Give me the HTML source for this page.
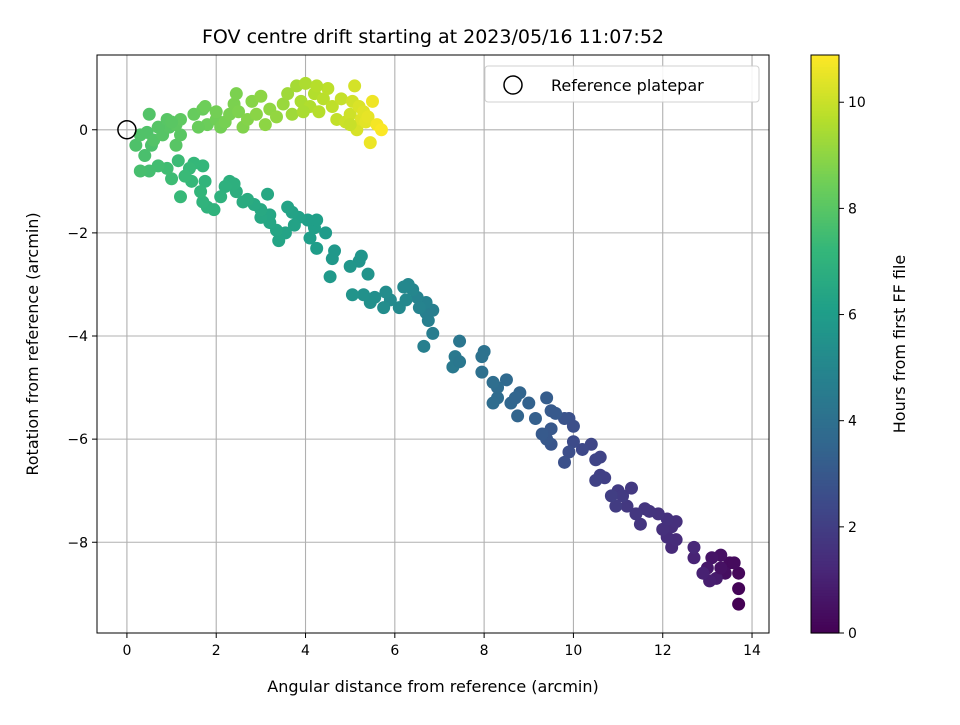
<!DOCTYPE html>
<html><head><meta charset="utf-8"><style>
body{margin:0;background:#fff;font-family:"Liberation Sans","DejaVu Sans",sans-serif}
svg text{font-family:"DejaVu Sans","Liberation Sans",sans-serif}
</style></head><body>
<svg id="chart" width="960" height="720" xmlns="http://www.w3.org/2000/svg">
<rect width="960" height="720" fill="#fff"/>
<g id="grid"></g>
<g id="points"></g>
<g id="axes"></g>
<text x="433" y="43" text-anchor="middle" font-size="19">FOV centre drift starting at 2023/05/16 11:07:52</text>
<text x="433" y="692" text-anchor="middle" font-size="16">Angular distance from reference (arcmin)</text>
<text transform="translate(38,344) rotate(-90)" text-anchor="middle" font-size="16">Rotation from reference (arcmin)</text>
<g>
<rect x="485" y="66" width="274" height="36" rx="3" fill="#fff" stroke="#ccc" opacity="0.9"/>
<circle cx="513" cy="85" r="9" fill="none" stroke="#000" stroke-width="1.5"/>
<text x="551" y="91" font-size="16">Reference platepar</text>
</g>
<g id="cbar"></g>
<text transform="translate(905,344) rotate(-90)" text-anchor="middle" font-size="16">Hours from first FF file</text>
</svg>
<script>
const xTicks=[0,2,4,6,8,10,12,14];
const yTicks=[0,-2,-4,-6,-8];
const cTicks=[0,2,4,6,8,10];
const xs=[13.7,13.7,13.7,13.5,13.4,13.3,13.1,13.0,13.2,13.05,12.9,12.7,12.7,13.3,13.6,
12.2,12.3,12.1,12.2,12.0,12.3,12.1,11.9,11.7,11.6,11.5,11.4,11.2,11.0,11.1,10.95,10.85,11.3,
10.6,10.7,10.5,10.6,10.5,10.4,10.2,10.0,9.9,9.8,9.9,10.0,9.8,
9.5,9.4,9.5,9.3,9.4,9.5,9.6,9.15,9.0,8.8,8.75,8.6,8.5,8.3,8.2,8.3,8.2,8.7,
7.95,8.0,7.95,7.45,7.35,7.3,7.45,6.85,6.7,6.75,6.85,6.65,6.7,6.5,6.55,6.4,6.3,
6.2,6.1,6.25,5.9,5.75,5.8,5.55,5.45,5.3,5.05,5.2,5.25,5.0,5.4,4.6,4.55,4.65,4.45,4.25,
4.1,4.2,4.05,4.25,3.85,3.7,3.75,3.6,3.55,3.4,3.35,3.2,3.2,3.15,3.0,3.0,2.85,2.7,2.6,2.45,2.3,2.4,2.2,2.1,1.95,1.8,1.7,
1.75,1.65,1.7,1.5,1.45,1.4,1.3,1.2,1.15,1.0,0.9,0.7,0.5,0.3,0.4,0.55,0.2,0.3,0.45,0.6,0.8,1.1,0.95,1.2,1.1,0.7,0.9,1.2,0.5,1.0,
1.5,1.7,1.8,1.6,1.75,2.0,2.1,2.0,2.2,2.3,2.4,2.5,2.45,2.6,2.7,2.8,2.9,3.0,3.1,3.2,3.35,
3.5,3.6,3.7,3.8,3.9,4.0,4.1,4.2,4.3,4.4,4.5,4.6,4.7,4.8,3.95,4.25,
4.9,5.0,5.05,5.1,5.15,5.2,5.25,5.3,5.35,5.4,5.45,5.5,5.6,5.7,5.0];
const ys=[-9.2,-8.9,-8.6,-8.4,-8.6,-8.25,-8.3,-8.5,-8.7,-8.75,-8.6,-8.3,-8.1,-8.5,-8.4,
-8.1,-7.95,-7.9,-7.7,-7.75,-7.6,-7.55,-7.45,-7.4,-7.35,-7.65,-7.45,-7.3,-7.0,-7.1,-7.3,-7.1,-6.95,
-6.7,-6.75,-6.8,-6.35,-6.4,-6.1,-6.2,-6.05,-6.25,-6.45,-5.6,-5.75,-5.6,
-6.1,-6.0,-5.8,-5.9,-5.2,-5.45,-5.5,-5.6,-5.3,-5.1,-5.55,-5.3,-4.85,-5.2,-5.3,-5.0,-4.9,-5.2,
-4.7,-4.3,-4.4,-4.1,-4.4,-4.6,-4.5,-3.95,-3.55,-3.7,-3.5,-4.2,-3.35,-3.25,-3.45,-3.1,-3.0,
-3.05,-3.45,-3.3,-3.3,-3.45,-3.15,-3.25,-3.35,-3.2,-3.2,-2.55,-2.45,-2.65,-2.8,-2.5,-2.85,-2.35,-2.0,-2.3,
-2.1,-1.9,-1.75,-1.75,-1.7,-1.6,-1.85,-1.5,-2.0,-2.15,-1.95,-1.8,-1.65,-1.25,-1.7,-1.55,-1.45,-1.35,-1.4,-1.2,-1.0,-1.05,-1.1,-1.3,-1.55,-1.5,-1.4,
-1.0,-1.2,-0.7,-0.65,-1.0,-0.75,-0.9,-1.3,-0.6,-0.95,-0.75,-0.7,-0.8,-0.8,-0.5,-0.3,-0.3,-0.1,-0.05,-0.2,-0.1,-0.3,0.05,-0.1,0.1,0.05,0.2,0.2,0.3,0.15,
0.3,0.4,0.1,0.05,0.45,0.2,0.05,0.35,0.15,0.3,0.5,0.35,0.7,0.05,0.2,0.55,0.3,0.65,0.1,0.4,0.25,
0.5,0.7,0.3,0.85,0.55,0.9,0.45,0.7,0.35,0.6,0.8,0.45,0.2,0.6,0.35,0.85,
0.15,0.3,0.55,0.85,0.0,0.45,0.2,0.35,0.15,0.25,-0.25,0.55,0.1,0.0,0.1];
const hours=[0.0,0.1,0.2,0.3,0.4,0.5,0.6,0.7,0.8,0.9,1.0,1.1,1.2,0.5,0.3,
1.3,1.35,1.4,1.45,1.5,1.5,1.55,1.6,1.65,1.7,1.7,1.75,1.8,1.9,1.9,1.95,2.0,1.85,
2.1,2.1,2.15,2.2,2.25,2.3,2.4,2.5,2.6,2.7,2.7,2.65,2.8,
2.9,3.0,3.0,3.1,3.2,3.1,3.05,3.3,3.4,3.5,3.5,3.6,3.7,3.8,3.85,3.8,3.9,3.55,
4.0,4.1,4.1,4.3,4.4,4.4,4.35,4.6,4.7,4.7,4.65,4.7,4.8,4.9,4.9,5.0,5.05,
5.1,5.15,5.1,5.2,5.3,5.3,5.4,5.45,5.5,5.6,5.6,5.65,5.7,5.6,5.8,5.85,5.8,5.9,6.0,
6.05,6.1,6.1,6.1,6.2,6.25,6.25,6.3,6.3,6.35,6.4,6.45,6.45,6.5,6.5,6.55,6.6,6.7,6.7,6.8,6.85,6.85,6.9,6.95,7.0,7.0,7.05,
7.1,7.15,7.2,7.25,7.25,7.3,7.35,7.3,7.4,7.45,7.5,7.55,7.6,7.65,7.7,7.75,7.8,7.85,7.85,7.9,7.95,8.0,8.0,8.05,8.1,7.95,8.0,8.15,7.9,8.05,
8.3,8.35,8.4,8.35,8.45,8.5,8.55,8.55,8.6,8.65,8.7,8.75,8.7,8.8,8.85,8.9,8.95,9.0,9.0,9.05,9.1,
9.2,9.3,9.3,9.4,9.5,9.55,9.6,9.65,9.7,9.75,9.8,9.85,9.9,9.95,9.5,9.7,
10.05,10.1,10.15,10.2,10.25,10.3,10.35,10.4,10.45,10.5,10.6,10.65,10.75,10.85,10.0];
const NS="http://www.w3.org/2000/svg";
const L=97,R=769,T=55,B=633;
const xMin=-0.67,xMax=14.38,yMin=-9.76,yMax=1.45;
function sx(v){return L+(v-xMin)/(xMax-xMin)*(R-L);}
function sy(v){return T+(yMax-v)/(yMax-yMin)*(B-T);}
const cMax=10.89;
function cy(v){return B-v/cMax*(B-T);}
const vir=[[68,1,84],[72,40,120],[62,73,137],[49,104,142],[38,130,142],[31,158,137],[53,183,121],[110,206,88],[181,222,43],[253,231,37]];
function viridis(t){t=Math.max(0,Math.min(1,t));const p=t*(vir.length-1),i=Math.min(Math.floor(p),vir.length-2),f=p-i;
const c=vir[i].map((a,k)=>Math.round(a+(vir[i+1][k]-a)*f));return `rgb(${c[0]},${c[1]},${c[2]})`;}
function mk(tag,attrs,parent){const e=document.createElementNS(NS,tag);for(const k in attrs)e.setAttribute(k,attrs[k]);parent.appendChild(e);return e;}
const grid=document.getElementById('grid'),axes=document.getElementById('axes'),pts=document.getElementById('points'),cb=document.getElementById('cbar');
xTicks.forEach(v=>{const x=sx(v);
const g=mk('line',{x1:x,x2:x,y1:T,y2:B,stroke:'#b0b0b0','stroke-width':1.1},grid);


const t=mk('line',{x1:x,x2:x,y1:B,y2:B+5,stroke:'#000'},axes);


const l=mk('text',{x:x,y:B+22,'text-anchor':'middle','font-size':14},axes);l.textContent=v;

});
yTicks.forEach(v=>{const y=sy(v);
const g=mk('line',{x1:L,x2:R,y1:y,y2:y,stroke:'#b0b0b0','stroke-width':1.1},grid);


const t=mk('line',{x1:L-5,x2:L,y1:y,y2:y,stroke:'#000'},axes);


const l=mk('text',{x:L-9,y:y+5,'text-anchor':'end','font-size':14},axes);l.textContent=v<0?'\u2212'+(-v):v;

});
const fr=mk('rect',{x:L,y:T,width:R-L,height:B-T,fill:'none',stroke:'#000','stroke-width':1},axes);


for(let i=0;i<xs.length;i++){const c=mk('circle',{cx:sx(xs[i]),cy:sy(ys[i]),r:6.5,fill:viridis(hours[i]/cMax)},pts);

}
const ref=mk('circle',{cx:sx(0),cy:sy(0),r:9,fill:'none',stroke:'#000','stroke-width':1.5},pts);


const CL=811,CR=839;
for(let i=0;i<200;i++){const v0=i/200*cMax,v1=(i+1)/200*cMax;
mk('rect',{x:CL,y:cy(v1),width:CR-CL,height:cy(v0)-cy(v1)+0.6,fill:viridis((v0+v1)/2/cMax)},cb);}
const cf=mk('rect',{x:CL,y:T,width:CR-CL,height:B-T,fill:'none',stroke:'#000'},cb);


cTicks.forEach(v=>{const y=cy(v);
const t=mk('line',{x1:CR,x2:CR+5,y1:y,y2:y,stroke:'#000'},cb);


const l=mk('text',{x:CR+9,y:y+5,'font-size':14},cb);l.textContent=v;

});
</script>
</body></html>
